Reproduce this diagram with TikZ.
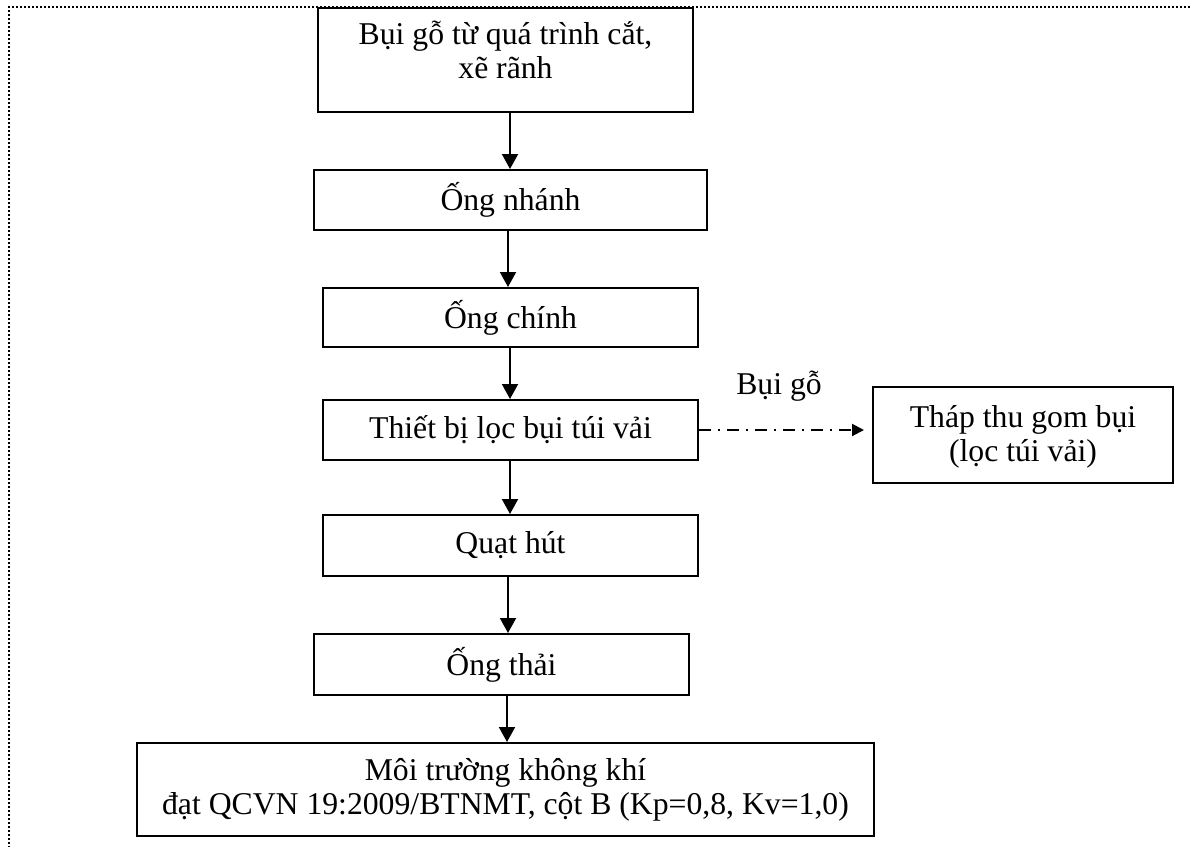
\documentclass[tikz,border=0pt]{standalone}
\usepackage{fontspec}
\setmainfont{Liberation Serif}
\usetikzlibrary{arrows.meta}
\begin{document}
\begin{tikzpicture}[x=0.5pt,y=-0.5pt,
  box/.style={draw=black,line width=1pt,inner sep=0pt,align=center,
    font=\fontsize{15.85}{17}\selectfont},
  flow/.style={line width=1pt,-{Triangle[length=7.5pt,width=8pt]}},
  side/.style={line width=1pt,dash pattern=on 6pt off 3.5pt on 1pt off 3.5pt,
    -{Triangle[length=6pt,width=6pt]}},
  frame/.style={line width=1pt,dash pattern=on 1pt off 1pt}]
\useasboundingbox (0,0) rectangle (1190,847);
\draw[frame] (1190,7) -- (9,7) -- (9,847);
\node[box,minimum width=187.5pt,minimum height=52pt] (b1) at (505.5,60)
  {Bụi gỗ từ quá trình cắt,\\xẽ rãnh\rule[-10.5pt]{0pt}{0pt}};
\node[box,minimum width=196.5pt,minimum height=30pt] (b2) at (510.5,200) {Ống nhánh};
\node[box,minimum width=187.5pt,minimum height=29.5pt] (b3) at (510.5,317.5) {Ống chính};
\node[box,minimum width=187.5pt,minimum height=30pt] (b4) at (510.5,430) {Thiết bị lọc bụi túi vải};
\node[box,minimum width=187.5pt,minimum height=30.5pt] (b6) at (510.5,545.5) {Quạt hút};
\node[box,minimum width=187.5pt,minimum height=30.5pt] (b7) at (501.5,664.5) {Ống thải};
\node[box,minimum width=368.5pt,minimum height=46.5pt] (b8) at (505.5,789.5)
  {Môi trường không khí\\đạt QCVN 19:2009/BTNMT, cột B (Kp=0,8, Kv=1,0)};
\node[box,minimum width=150pt,minimum height=48pt] (b5) at (1023,435)
  {\rule{0pt}{13pt}Tháp thu gom bụi\\(lọc túi vải)};
\node[font=\fontsize{15.85}{17}\selectfont,inner sep=0pt] (lbl) at (779,386) {Bụi gỗ};
\coordinate (c1) at (510,0);
\coordinate (c2) at (508,0);
\coordinate (c3) at (507,0);
\draw[flow] (b1.south -| c1) -- (b2.north -| c1);
\draw[flow] (b2.south -| c2) -- (b3.north -| c2);
\draw[flow] (b3.south -| c1) -- (b4.north -| c1);
\draw[flow] (b4.south -| c1) -- (b6.north -| c1);
\draw[flow] (b6.south -| c2) -- (b7.north -| c2);
\draw[flow] (b7.south -| c3) -- (b8.north -| c3);
\draw[side] (b4.east) -- ([xshift=-4pt]b5.west |- b4.east);
\end{tikzpicture}
\end{document}
